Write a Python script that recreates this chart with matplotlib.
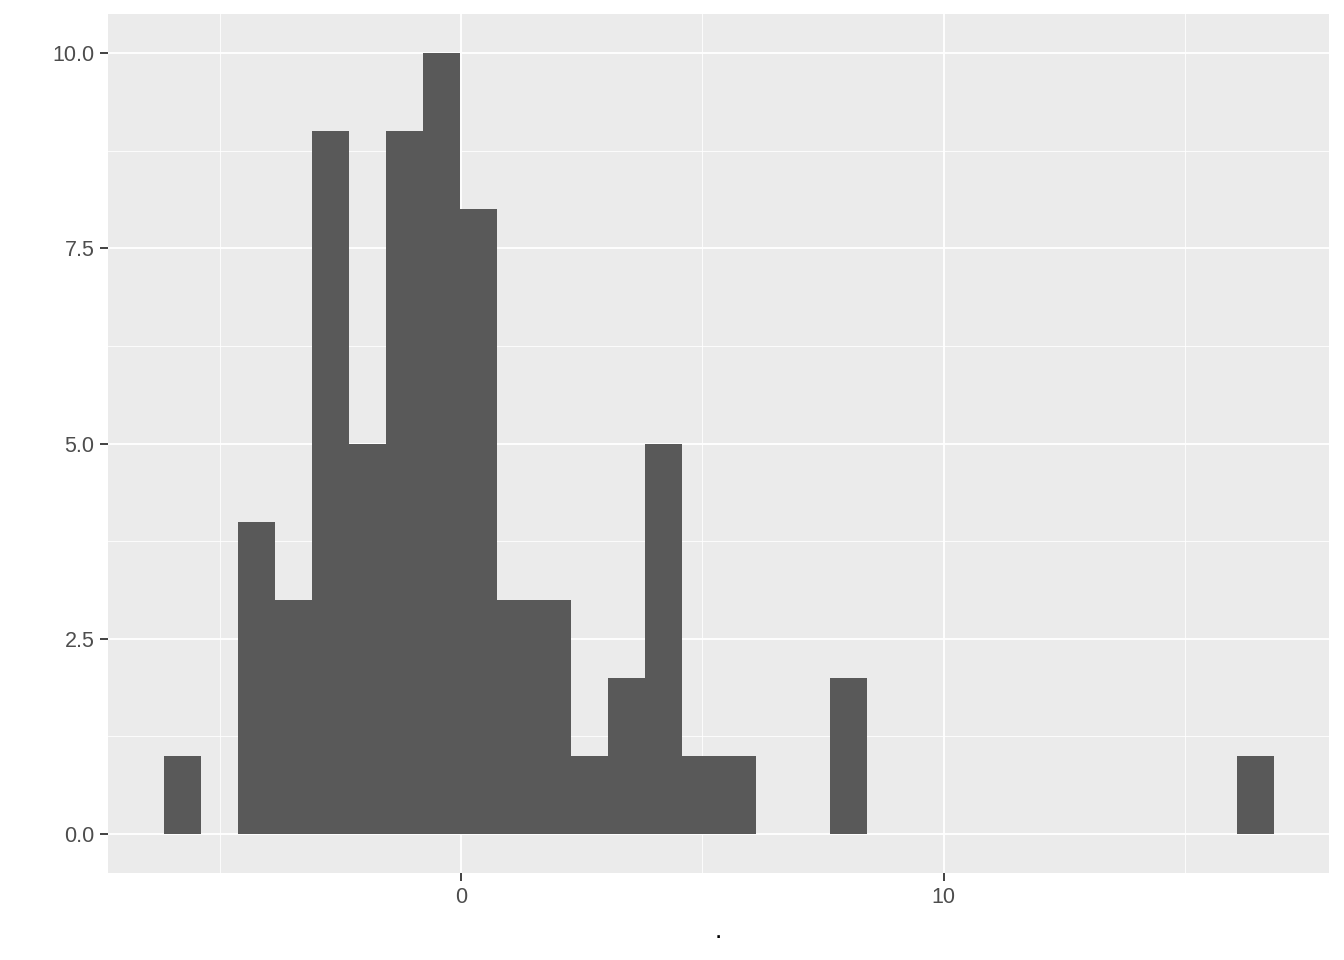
"""
Histogram of values, ggplot2-style (30 bins)
"""
import numpy as np
import matplotlib.pyplot as plt

# data range covered by the bins and the count per bin
bin_start = -6.16
bin_end = 16.83
counts = [1, 0, 4, 3, 9, 5, 9, 10, 8, 3,
          3, 1, 2, 5, 1, 1, 0, 0, 2, 0,
          0, 0, 0, 0, 0, 0, 0, 0, 0, 1]
x_ticks = [0, 10]
y_ticks = [0.0, 2.5, 5.0, 7.5, 10.0]

edges = np.linspace(bin_start, bin_end, len(counts) + 1)
widths = np.diff(edges)

plt.rcParams['font.family'] = ['Liberation Sans', 'DejaVu Sans']

fig = plt.figure(figsize=(13.44, 9.6), dpi=100)
ax = fig.add_axes([108 / 1344, (960 - 873) / 960, (1329 - 108) / 1344, (873 - 14) / 960])
ax.set_facecolor('#EBEBEB')

# grid
span = bin_end - bin_start
xlim = (bin_start - 0.05 * span, bin_end + 0.05 * span)
ylim = (-0.05 * max(counts), 1.05 * max(counts))
for v in [-5, 5, 15]:
    ax.axvline(v, color='white', lw=0.6, zorder=0)
for v in [1.25, 3.75, 6.25, 8.75]:
    ax.axhline(v, color='white', lw=0.6, zorder=0)
for v in x_ticks:
    ax.axvline(v, color='white', lw=1.3, zorder=0)
for v in y_ticks:
    ax.axhline(v, color='white', lw=1.3, zorder=0)

ax.bar(edges[:-1], counts, width=widths, align='edge', color='#595959', zorder=2)

ax.set_xlim(*xlim)
ax.set_ylim(*ylim)
ax.set_xticks(x_ticks)
ax.set_yticks(y_ticks)
ax.set_yticklabels([f"{v:.1f}" for v in y_ticks])
ax.tick_params(colors='#333333', labelcolor='#4D4D4D', labelsize=15.5,
               length=5.8, width=1.3, pad=4)
for s in ax.spines.values():
    s.set_visible(False)

ax.set_xlabel('.', fontsize=19, color='black', labelpad=8)

plt.savefig('out.png', dpi=100)
plt.close()
